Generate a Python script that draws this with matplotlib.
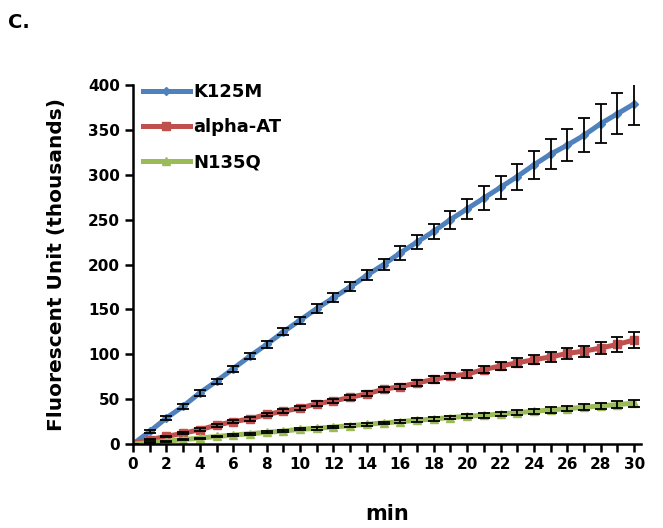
import matplotlib.pyplot as plt
from matplotlib.ticker import MultipleLocator

# ---------- data ----------
minutter = list(range(0, 31))

k125m = [0, 14, 29, 42, 57, 70, 84, 98, 111, 125, 138, 151, 163, 175, 188, 200,
         213, 225, 237, 250, 262, 274, 286, 298, 311, 323, 333, 344, 357, 368, 379]
k125m_err = [0, 2, 2, 2.5, 3, 3, 3.5, 3.5, 4, 4, 4, 4.5, 5, 5, 5.5, 6.5,
             7.5, 8, 8.5, 10, 11.5, 13, 12.5, 14.5, 16, 17, 18, 19, 22, 23, 24]

alpha_at = [0, 5, 8.5, 12, 16, 21, 25, 28, 33, 36.5, 40, 45, 48, 52, 56, 61,
            64, 68, 72, 75.5, 78, 83, 87, 90.5, 94, 97, 101, 103.5, 107, 111, 116]
alpha_at_err = [0, 1, 1, 1, 1.5, 1.5, 1.5, 2, 2, 2, 2, 2.5, 2.5, 2.5, 3, 3,
                3, 3, 3.5, 3.5, 4, 4, 4.5, 5, 5, 5.5, 6, 6, 7, 8, 9]

n135q = [0, 1.5, 3, 5, 6.5, 8.5, 10, 11.5, 13, 14.5, 16.5, 17.5, 19, 20.5, 22, 23.5,
         25, 26.5, 28, 29.5, 31, 32, 33.5, 35, 36.5, 38, 39.5, 41, 42.5, 44, 45.5]
n135q_err = [0, 0.5, 0.5, 0.5, 0.5, 1, 1, 1, 1, 1, 1, 1.5, 1.5, 1.5, 1.5, 1.5,
             2, 2, 2, 2, 2, 2.5, 2.5, 2.5, 3, 3, 3, 3.5, 3.5, 3.5, 4]

serier = [
    ("K125M", k125m, k125m_err, "#4F81BD", "D", 4),
    ("alpha-AT", alpha_at, alpha_at_err, "#C0504D", "s", 5.5),
    ("N135Q", n135q, n135q_err, "#9BBB59", "^", 5.5),
]

FONT = "DejaVu Sans"

# ---------- figur ----------
fig = plt.figure(figsize=(6.63, 5.28), dpi=100)
ax = fig.add_axes([0.2006, 0.159, 0.766, 0.68])

for navn, verdier, feil, farge, markor, ms in serier:
    ax.plot(minutter, verdier, color=farge, lw=3.6, marker=markor, ms=ms,
            label=navn, zorder=2)
    ax.errorbar(minutter, verdier, yerr=feil, fmt="none", ecolor="black",
                elinewidth=1.3, capsize=4, capthick=1.3, zorder=3)

ax.set_xlim(0, 30.4)
ax.set_ylim(0, 400)
ax.xaxis.set_major_locator(MultipleLocator(2))
ax.xaxis.set_minor_locator(MultipleLocator(1))
ax.yaxis.set_major_locator(MultipleLocator(50))

for side in ("top", "right"):
    ax.spines[side].set_visible(False)
for side in ("left", "bottom"):
    ax.spines[side].set_linewidth(1.8)

ax.tick_params(axis="both", which="both", direction="out", width=1.8)
ax.tick_params(axis="both", which="major", length=6, labelsize=11)
ax.tick_params(axis="x", which="minor", length=6)
for lab in ax.get_xticklabels() + ax.get_yticklabels():
    lab.set_fontweight("bold")
    lab.set_family(FONT)

ax.set_xlabel("min", fontsize=15, fontweight="bold", family=FONT, labelpad=23)
ax.set_ylabel("Fluorescent Unit (thousands)", fontsize=14.5, fontweight="bold",
              family=FONT, labelpad=16)

leg = ax.legend(loc="upper left", frameon=False, handlelength=2.6,
                handletextpad=0.2, labelspacing=0.95, borderaxespad=0.0,
                bbox_to_anchor=(0.005, 1.025),
                prop={"family": FONT, "weight": "bold", "size": 13})

fig.text(0.012, 0.958, "C.", fontsize=14, fontweight="bold", family=FONT,
         va="center")

fig.savefig("out.png", dpi=100)
